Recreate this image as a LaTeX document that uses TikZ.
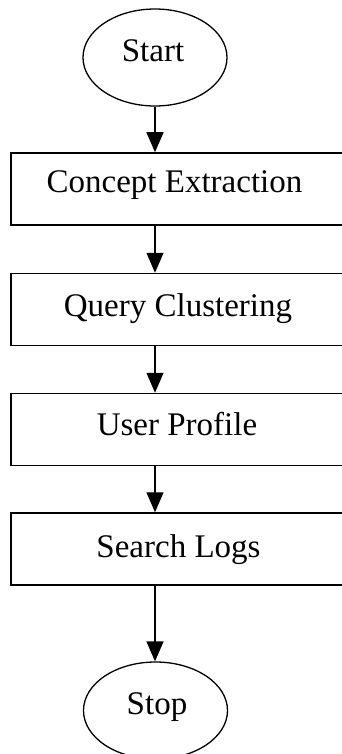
\documentclass[tikz,border=0pt]{standalone}
\usepackage{fontspec}
\setmainfont{Liberation Serif}
\usetikzlibrary{arrows.meta,shapes.geometric}
\begin{document}
\begin{tikzpicture}[x=1pt,y=-1pt,
  terminal/.style={draw,ellipse,line width=1.3pt,minimum width=144pt,minimum height=97pt,inner sep=0pt},
  stepbox/.style={draw,rectangle,line width=1.5pt,minimum width=333pt,minimum height=72pt,inner sep=0pt},
  lbl/.style={anchor=base,font=\fontsize{33}{38}\selectfont,inner sep=0pt},
  flow/.style={line width=1.4pt,-{Triangle[width=17pt,length=20pt]}}]
  \useasboundingbox (0,0) rectangle (342,754);
  \clip (0,0) rectangle (342,754);

  % shapes
  \node[terminal] (start) at (155,57.5) {};
  \node[stepbox] (concept) at (177.5,189) {};
  \node[stepbox] (query) at (177.5,309.5) {};
  \node[stepbox] (profile) at (177.5,429.5) {};
  \node[stepbox] (logs) at (177.5,549) {};
  \node[terminal] (stop) at (155.5,710.5) {};

  % labels
  \node[lbl] (tstart) at (153,62) {Start};
  \node[lbl] (tconcept) at (174.5,193) {Concept Extraction};
  \node[lbl] (tquery) at (178,316) {Query Clustering};
  \node[lbl] (tprofile) at (177,435) {User Profile};
  \node[lbl] (tlogs) at (178.5,557) {Search Logs};
  \node[lbl] (tstop) at (157,714) {Stop};

  % connectors
  \draw[flow] (start.south) -- (start.south |- concept.north);
  \draw[flow] (start.south |- concept.south) -- (start.south |- query.north);
  \draw[flow] (start.south |- query.south) -- (start.south |- profile.north);
  \draw[flow] (start.south |- profile.south) -- (start.south |- logs.north);
  \draw[flow] (start.south |- logs.south) -- (start.south |- stop.north);
\end{tikzpicture}
\end{document}
